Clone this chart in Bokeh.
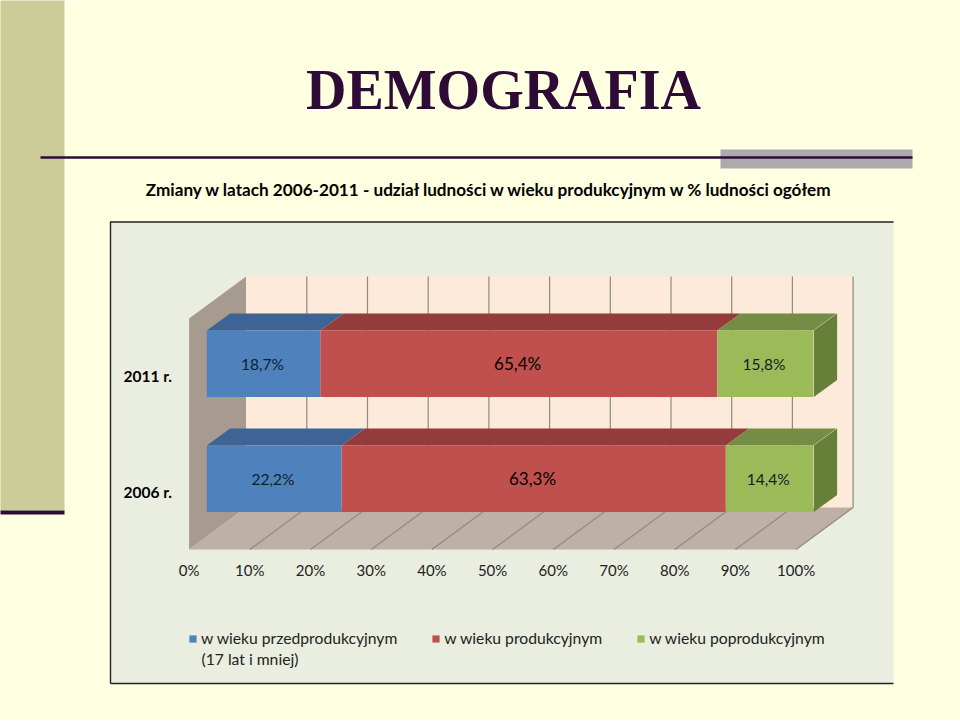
from bokeh.plotting import figure
from bokeh.embed import file_html
from bokeh.resources import INLINE
from bokeh.core.properties import value
from bokeh.models import Range1d, LinearAxis, FixedTicker, Legend, LegendItem

TITLE = "DEMOGRAFIA"
SUBTITLE = "Zmiany w latach 2006-2011 - udział ludności w wieku produkcyjnym w % ludności ogółem"
years = ["2011 r.", "2006 r."]
series_names = ["w wieku przedprodukcyjnym", "w wieku produkcyjnym", "w wieku poprodukcyjnym"]
legend_note = "(17 lat i mniej)"
v_pre = [18.7, 22.2]
v_prod = [65.4, 63.3]
v_post = [15.8, 14.4]
x_ticks = [0, 10, 20, 30, 40, 50, 60, 70, 80, 90, 100]

BG = "#FFFFE1"
DARK = "#2E0A36"
FRONT = ["#4F81BD", "#C0504D", "#9BBB59"]
TOP = ["#3D6495", "#943C3B", "#748C43"]
SIDE = "#667F39"
W, H = 960, 720
X0, PXW = 188.6, 607.0          # pixel position of 0 % and pixels for 100 %


def sx(px):
    return (px - X0) / PXW * 100


p = figure(width=W, height=H, output_backend="svg", toolbar_location=None,
           x_axis_type=None, y_axis_type=None,
           x_range=Range1d(sx(0), sx(W)), y_range=Range1d(H, 0),
           min_border=0, outline_line_color=None,
           background_fill_color=BG, border_fill_color=BG)
p.grid.visible = False


def box(l, t, r, b, color):
    p.quad(left=[sx(l)], right=[sx(r)], top=[t], bottom=[b], fill_color=color, line_color=None)


# slide decoration
box(-3, -3, 64, 510, "#CCCC99")
box(-3, 510, 64, 514, DARK)
box(720, 149, 912, 168, "#ADA9AD")
p.line([sx(40), sx(912)], [157, 157], line_color=DARK, line_width=2.4)
box(110, 221, 893, 683, "#EAEEE0")
for xs, ys in [([110, 110], [221, 683]), ([110, 893], [221.5, 221.5]), ([110, 893], [683, 683])]:
    p.line([sx(a) for a in xs], ys, line_color="#222222", line_width=1.4)

p.text([sx(503)], [89], text=[TITLE], text_font=value("Liberation Serif"), text_font_style="bold",
       text_font_size="56px", text_color=DARK, text_align="center", text_baseline="alphabetic")
p.text([sx(489.5)], [188.5], text=[SUBTITLE], text_font=value("Lato"), text_font_style="bold",
       text_font_size="17.15px", text_color="#000000", text_align="center", text_baseline="alphabetic")

# 3-D box of the chart
DX, DY = 57.0, 42.0             # wall depth
FLOOR, TOP_Y = 549.0, 318.0     # front floor line, front top of the side wall
dpct = DX / PXW * 100
p.patch([0, dpct, dpct, 0], [TOP_Y, TOP_Y - DY, FLOOR - DY, FLOOR], fill_color="#A79A8F", line_color=None)
p.patch([dpct, 100 + dpct, 100 + dpct, dpct], [TOP_Y - DY, TOP_Y - DY, FLOOR - DY, FLOOR - DY],
        fill_color="#FDEADA", line_color=None)
p.patch([0, dpct, 100 + dpct, 100], [FLOOR, FLOOR - DY, FLOOR - DY, FLOOR], fill_color="#BEB0A4", line_color=None)
for t in x_ticks[1:]:
    p.line([t + dpct, t + dpct], [TOP_Y - DY, FLOOR - DY], line_color="#8E8A86", line_width=1.2)
    p.line([t, t + dpct], [FLOOR, FLOOR - DY], line_color="#8E8A86", line_width=1.2)

# stacked 3-D bars
BX, BY = 23.3, 17.0             # bar depth
OFF = 17.7 / PXW * 100          # bar front offset from the floor's front
BAR_TOP = [330.0, 445.0]
BAR_H = 66.5
LABEL_SHIFT = -1.2 / PXW * 100
bdx = BX / PXW * 100
sizes = {0: [15.5, 17.0, 15.5], 1: [15.5, 17.0, 15.5]}
first = {}
for row in range(2):
    vals = [v_pre[row], v_prod[row], v_post[row]]
    t, b = BAR_TOP[row], BAR_TOP[row] + BAR_H
    left = OFF
    for k, v in enumerate(vals):
        right = left + v
        p.patch([left, left + bdx, right + bdx, right], [t, t - BY, t - BY, t], fill_color=TOP[k], line_color=None)
        r = p.quad(left=[left], right=[right], top=[t], bottom=[b], fill_color=FRONT[k], line_color=None)
        first.setdefault(k, r)
        p.text([left + v / 2 + LABEL_SHIFT], [t + 33], text=[f"{v:.1f}%".replace(".", ",")],
               text_font=value("Lato"), text_font_size=f"{sizes[row][k]}px",
               text_color="#000000" if k == 1 else "#10202A",
               text_align="center", text_baseline="middle")
        left = right
    end = OFF + 100
    p.patch([end, end + bdx, end + bdx, end], [t, t - BY, b - BY, b], fill_color=SIDE, line_color=None)

# axes
xa = LinearAxis(fixed_location=549, ticker=FixedTicker(ticks=x_ticks),
                major_label_overrides={t: f"{t}%" for t in x_ticks},
                axis_line_color=None, major_tick_line_color=None, minor_tick_line_color=None,
                major_label_text_font="Lato", major_label_text_font_size="15px",
                major_label_text_color="#222222", major_label_standoff=5)
p.add_layout(xa, "below")
ya = LinearAxis(fixed_location=sx(177.5), ticker=FixedTicker(ticks=[375.5, 491]),
                major_label_overrides={375.5: years[0], 491: years[1]},
                axis_line_color=None, major_tick_line_color=None, minor_tick_line_color=None,
                major_label_text_font="Lato", major_label_text_font_style="bold",
                major_label_text_font_size="15.5px", major_label_text_color="#000000",
                major_label_standoff=0)
p.add_layout(ya, "left")

# legend
leg = Legend(items=[LegendItem(label=series_names[k], renderers=[first[k]]) for k in range(3)],
             orientation="horizontal", location=(188, H - 647), padding=0, margin=0,
             spacing=34, glyph_width=9, glyph_height=9, label_standoff=4,
             background_fill_alpha=0, border_line_color=None,
             label_text_font="Lato", label_text_font_size="15.7px", label_text_color="#222222",
             label_height=14)
p.add_layout(leg, "center")
p.text([sx(201)], [658], text=[legend_note], text_font=value("Lato"), text_font_size="15.7px",
       text_color="#222222", text_align="left", text_baseline="middle")

open("out.html", "w").write(file_html(p, INLINE))
